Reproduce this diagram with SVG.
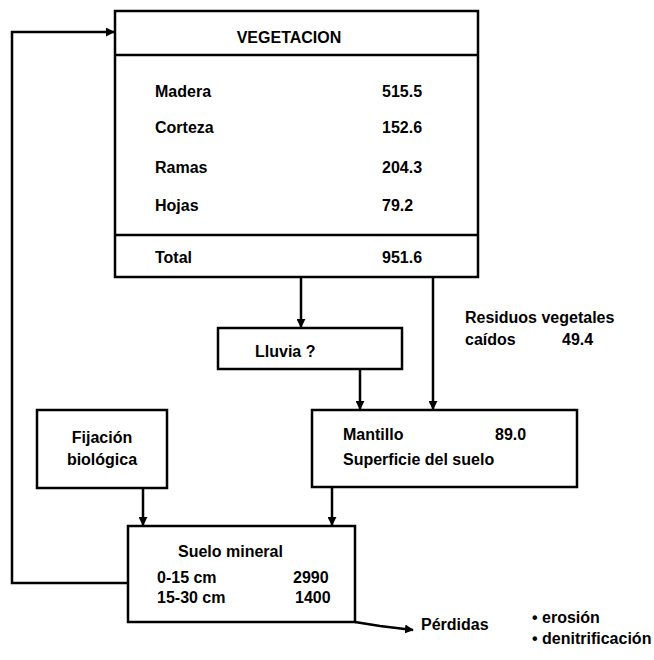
<svg xmlns="http://www.w3.org/2000/svg" width="654" height="660" viewBox="0 0 654 660">
<defs>
<marker id="ah" viewBox="0 0 10 10" refX="9" refY="5" markerWidth="3.6" markerHeight="3.6" orient="auto" markerUnits="strokeWidth">
<path d="M0,0 L10,5 L0,10 Z" fill="#000"/>
</marker>
<style>
.box{fill:#fff;stroke:#000;stroke-width:2.5}
.ln{fill:none;stroke:#000;stroke-width:2.5}
.con{fill:none;stroke:#000;stroke-width:2.5;marker-end:url(#ah)}
text{font-family:"Liberation Sans",Arial,sans-serif;font-size:16px;font-weight:bold;fill:#000}
.c{text-anchor:middle}
</style>
</defs>
<rect width="654" height="660" fill="#fff"/>
<g id="connectors">
<polyline class="con" points="128,583 12,583 12,32 114,32"/>
<line class="con" x1="301" y1="277" x2="301" y2="327"/>
<line class="con" x1="433" y1="277" x2="433" y2="409"/>
<line class="con" x1="360" y1="369" x2="360" y2="409"/>
<line class="con" x1="143" y1="488" x2="143" y2="525"/>
<line class="con" x1="332" y1="487" x2="332" y2="525"/>
<polyline class="con" points="355,622 380,626 413,630"/>
</g>
<g id="vegetacion">
<rect class="box" x="115" y="11" width="363" height="266"/>
<line class="ln" x1="115" y1="55" x2="478" y2="55"/>
<line class="ln" x1="115" y1="235" x2="478" y2="235"/>
<text class="c" x="289" y="43">VEGETACION</text>
<text x="155" y="97">Madera</text><text x="382" y="97">515.5</text>
<text x="155" y="133">Corteza</text><text x="382" y="133">152.6</text>
<text x="155" y="173">Ramas</text><text x="382" y="173">204.3</text>
<text x="155" y="211">Hojas</text><text x="382" y="211">79.2</text>
<text x="155" y="263">Total</text><text x="382" y="263">951.6</text>
</g>
<g id="lluvia">
<rect class="box" x="218" y="328" width="184" height="41"/>
<text x="255" y="357">Lluvia ?</text>
</g>
<g id="residuos">
<text x="465" y="323">Residuos vegetales</text>
<text x="465" y="345">caídos</text>
<text x="562" y="345">49.4</text>
</g>
<g id="mantillo">
<rect class="box" x="312" y="410" width="265" height="77"/>
<text x="343" y="440">Mantillo</text><text x="495" y="440">89.0</text>
<text x="343" y="465">Superficie del suelo</text>
</g>
<g id="fijacion">
<rect class="box" x="37" y="410" width="130" height="78"/>
<text class="c" x="102" y="443">Fijación</text>
<text class="c" x="102" y="465">biológica</text>
</g>
<g id="suelo">
<rect class="box" x="128" y="526" width="227" height="96"/>
<text x="178" y="557">Suelo mineral</text>
<text x="157" y="583">0-15 cm</text><text x="293" y="583">2990</text>
<text x="157" y="603">15-30 cm</text><text x="295" y="603">1400</text>
</g>
<g id="perdidas">
<text x="421" y="630">Pérdidas</text>
<text x="532" y="623">• erosión</text>
<text x="532" y="644">• denitrificación</text>
</g>
</svg>
